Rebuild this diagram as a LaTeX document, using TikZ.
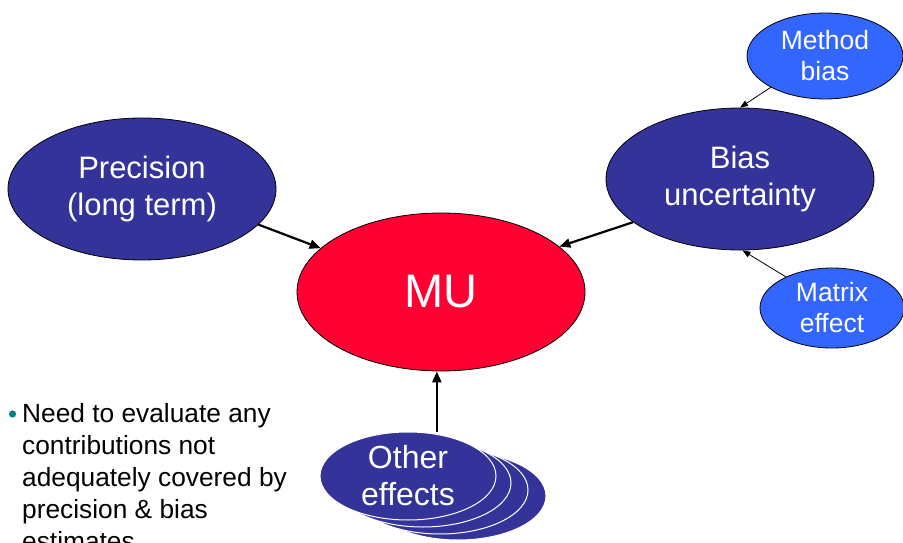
\documentclass[tikz,border=0pt]{standalone}
\usepackage{fontspec}
\setmainfont{Liberation Sans}
\usetikzlibrary{arrows.meta,shapes.geometric}
\definecolor{darkblue}{HTML}{333399}
\definecolor{lightblue}{HTML}{3366FF}
\definecolor{mured}{HTML}{FF0033}
\definecolor{teal2}{HTML}{008080}
\tikzset{
  bigell/.style={ellipse, draw=black, fill=darkblue, text=white, align=center, inner sep=0pt, line width=0.8pt},
  smallell/.style={ellipse, draw=black, fill=lightblue, text=white, align=center, inner sep=0pt, line width=0.8pt},
  stackell/.style={ellipse, draw=white, fill=darkblue, inner sep=0pt, line width=1pt, minimum width=176pt, minimum height=88pt},
  thickarrow/.style={-{Triangle[length=11pt,width=9pt]}, line width=2.2pt, black},
  thinarrow/.style={-{Triangle[length=8pt,width=6pt]}, line width=0.8pt, black}
}
\begin{document}
\begin{tikzpicture}[x=1pt,y=-1pt]
\useasboundingbox (0,0) rectangle (903,543);
% MU
\node[ellipse, draw=black, fill=mured, text=white, minimum width=288pt, minimum height=158pt, inner sep=0pt, line width=0.8pt, font=\fontsize{47}{50}\selectfont] (mu) at (441,292) {MU};
% Precision
\node[bigell, minimum width=268pt, minimum height=142pt, font=\fontsize{31}{37}\selectfont] (prec) at (142,189) {Precision\\(long term)};
% Bias
\node[bigell, minimum width=268pt, minimum height=142pt, font=\fontsize{31}{37}\selectfont] (bias) at (740,179) {Bias\\uncertainty};
% Method bias
\node[smallell, minimum width=156pt, minimum height=86pt, font=\fontsize{26.5}{31}\selectfont] (meth) at (825,56) {Method\\bias};
% Matrix effect
\node[smallell, minimum width=144pt, minimum height=80pt, font=\fontsize{26.5}{31}\selectfont] (matr) at (832,308) {Matrix\\effect};
% Other effects stack
\node[stackell] (o4) at (458,496) {};
\node[stackell] (o3) at (440,490) {};
\node[stackell] (o2) at (423,483) {};
\node[stackell, text=white, align=center, font=\fontsize{32}{37}\selectfont] (other) at (408,476) {Other\\effects};
% arrows
\draw[thickarrow] (prec.-17.7) -- (mu.160);
\draw[thickarrow] (bias.-158) -- (mu.21.4);
\draw[thickarrow] (other.north -| mu.-93) -- (mu.-93);
\draw[thinarrow] (meth.-150) -- (bias.90);
\draw[thinarrow] (matr.146) -- (bias.-88);
% bullet text
\fill[teal2] (12.5,414) circle (3.6pt);
\node[anchor=north west, align=left, inner sep=0pt, font=\fontsize{26.3}{32}\selectfont] (txt) at (22,403) {Need to evaluate any\\contributions not\\adequately covered by\\precision \& bias\\estimates};
\end{tikzpicture}
\end{document}
